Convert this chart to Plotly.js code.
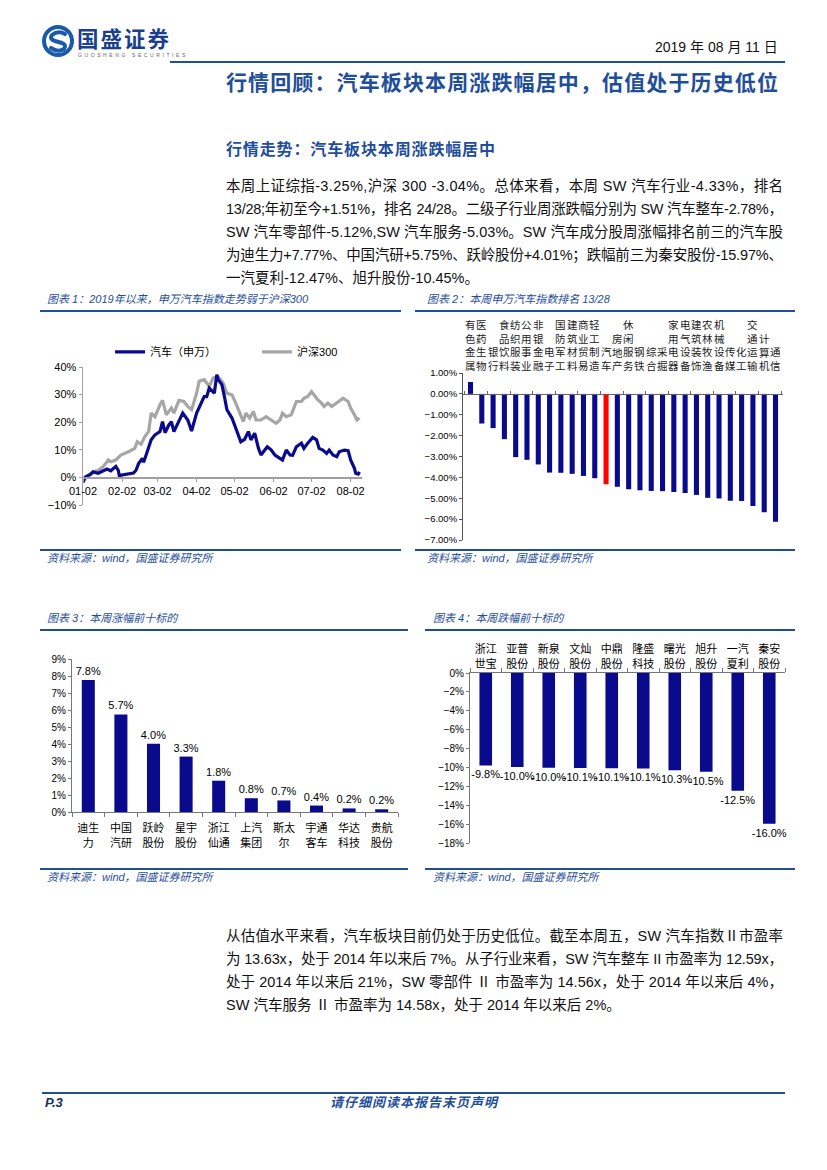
<!DOCTYPE html>
<html><head><meta charset="utf-8">
<script src="https://cdn.plot.ly/plotly-3.0.1.min.js"></script>
<style>
body{margin:0;background:#fff;}
#page{position:relative;width:827px;height:1170px;overflow:hidden;font-family:"Liberation Sans","Noto Sans CJK SC",sans-serif;color:#111;}
.t{position:absolute;white-space:nowrap;}
.hl{position:absolute;background:#1F4E9A;}
.ln{font-size:14.5px;line-height:20px;left:226px;}
.cap{font-style:italic;font-size:11px;line-height:14px;color:#1F4E9A;}
.ch{position:absolute;}
</style></head>
<body><div id="page">
<svg class="ch" style="left:40px;top:24px" width="40" height="36" viewBox="0 0 40 36">
  <circle cx="18" cy="17" r="14" fill="none" stroke="#1A5AA8" stroke-width="4"/>
  <path d="M25 10 Q18 6 12 11 Q9 15 15 17 L22 19 Q27 21 24 25 Q18 29 11 24" fill="none" stroke="#1A5AA8" stroke-width="4" stroke-linecap="round"/>
</svg>
<div class="t" style="left:77px;top:27px;font-size:21.5px;line-height:26px;font-weight:bold;color:#1B3F8F;letter-spacing:2px;">国盛证券</div>
<div class="t" style="left:78px;top:52px;font-size:5px;line-height:7px;color:#666;letter-spacing:2.6px;">GUOSHENG SECURITIES</div>
<div class="t" style="left:655px;top:38px;font-size:14px;line-height:18px;">2019 年 08 月 11 日</div>
<div class="hl" style="left:170px;top:61px;width:615px;height:2px;"></div>
<div class="t fit" data-w="552" style="left:226px;top:70px;font-size:21px;line-height:26px;font-weight:bold;color:#1F4E9A;">行情回顾：汽车板块本周涨跌幅居中，估值处于历史低位</div>
<div class="t fit" data-w="269" style="left:226px;top:140px;font-size:16px;line-height:20px;font-weight:bold;color:#1F4E9A;">行情走势：汽车板块本周涨跌幅居中</div>

<div class="t ln fit" data-w="557" style="top:176px;">本周上证综指-3.25%,沪深 300 -3.04%。总体来看，本周 SW 汽车行业-4.33%，排名</div>
<div class="t ln fit" data-w="557" style="top:199px;">13/28;年初至今+1.51%，排名 24/28。二级子行业周涨跌幅分别为 SW 汽车整车-2.78%，</div>
<div class="t ln fit" data-w="557" style="top:222px;">SW 汽车零部件-5.12%,SW 汽车服务-5.03%。SW 汽车成分股周涨幅排名前三的汽车股</div>
<div class="t ln fit" data-w="557" style="top:245px;">为迪生力+7.77%、中国汽研+5.75%、跃岭股份+4.01%；跌幅前三为秦安股份-15.97%、</div>
<div class="t ln" style="top:268px;">一汽夏利-12.47%、旭升股份-10.45%。</div>

<div class="t cap" style="left:47px;top:292px;">图表 1：2019年以来，申万汽车指数走势弱于沪深300</div>
<div class="hl" style="left:40px;top:310px;width:361px;height:1.5px;"></div>
<div class="t cap" style="left:427px;top:292px;">图表 2：本周申万汽车指数排名 13/28</div>
<div class="hl" style="left:415px;top:310px;width:380px;height:1.5px;"></div>
<div class="hl" style="left:40px;top:549px;width:361px;height:1.5px;"></div>
<div class="hl" style="left:415px;top:549px;width:380px;height:1.5px;"></div>
<div class="t cap" style="left:47px;top:551px;">资料来源：wind，国盛证券研究所</div>
<div class="t cap" style="left:427px;top:551px;">资料来源：wind，国盛证券研究所</div>

<div class="t cap" style="left:47px;top:611px;">图表 3：本周涨幅前十标的</div>
<div class="hl" style="left:40px;top:629px;width:368px;height:1.5px;"></div>
<div class="t cap" style="left:433px;top:611px;">图表 4：本周跌幅前十标的</div>
<div class="hl" style="left:425px;top:629px;width:370px;height:1.5px;"></div>
<div class="hl" style="left:40px;top:868px;width:368px;height:1.5px;"></div>
<div class="hl" style="left:425px;top:868px;width:370px;height:1.5px;"></div>
<div class="t cap" style="left:47px;top:870px;">资料来源：wind，国盛证券研究所</div>
<div class="t cap" style="left:433px;top:870px;">资料来源：wind，国盛证券研究所</div>

<div class="t ln fit" data-w="557" style="top:926px;">从估值水平来看，汽车板块目前仍处于历史低位。截至本周五，SW 汽车指数Ⅱ市盈率</div>
<div class="t ln fit" data-w="557" style="top:949px;">为 13.63x，处于 2014 年以来后 7%。从子行业来看，SW 汽车整车 II 市盈率为 12.59x，</div>
<div class="t ln fit" data-w="557" style="top:972px;">处于 2014 年以来后 21%，SW 零部件 Ⅱ 市盈率为 14.56x，处于 2014 年以来后 4%，</div>
<div class="t ln" style="top:995px;">SW 汽车服务 Ⅱ 市盈率为 14.58x，处于 2014 年以来后 2%。</div>

<div class="hl" style="left:42px;top:1092px;width:743px;height:2px;"></div>
<div class="t" style="left:45px;top:1095px;font-size:13px;line-height:16px;font-weight:bold;font-style:italic;color:#1B2F5F;">P.3</div>
<div class="t" style="left:330px;top:1095px;font-size:13px;line-height:16px;font-weight:bold;font-style:italic;color:#1F4E9A;letter-spacing:1px;">请仔细阅读本报告末页声明</div>

<div id="c1" class="ch" style="left:40px;top:320px;"></div>
<div id="c2" class="ch" style="left:415px;top:312px;"></div>
<div id="c3" class="ch" style="left:40px;top:640px;"></div>
<div id="c4" class="ch" style="left:420px;top:630px;"></div>
</div>
<script>
// ---- Chart 1 data ----
const carDates = ['2019-01-02','2019-01-04','2019-01-08','2019-01-10','2019-01-14','2019-01-17','2019-01-21','2019-01-24','2019-01-28','2019-01-30','2019-01-31','2019-02-01','2019-02-11','2019-02-13','2019-02-15','2019-02-18','2019-02-19','2019-02-21','2019-02-22','2019-02-25','2019-02-28','2019-03-04','2019-03-06','2019-03-08','2019-03-11','2019-03-13','2019-03-15','2019-03-19','2019-03-22','2019-03-26','2019-03-29','2019-04-02','2019-04-08','2019-04-10','2019-04-12','2019-04-16','2019-04-18','2019-04-19','2019-04-22','2019-04-24','2019-04-26','2019-04-30','2019-05-02','2019-05-05','2019-05-07','2019-05-10','2019-05-13','2019-05-15','2019-05-18','2019-05-21','2019-05-23','2019-05-26','2019-05-28','2019-05-31','2019-06-03','2019-06-07','2019-06-09','2019-06-12','2019-06-15','2019-06-17','2019-06-20','2019-06-24','2019-06-26','2019-06-29','2019-07-03','2019-07-06','2019-07-08','2019-07-11','2019-07-14','2019-07-16','2019-07-19','2019-07-22','2019-07-24','2019-07-28','2019-07-31','2019-08-02','2019-08-05','2019-08-06','2019-08-08','2019-08-09'];
const carVals = [-1.8,0.2,1.1,2.0,1.5,2.2,3.0,2.4,4.0,2.5,0.0,0.8,1.6,2.6,5.0,6.9,5.5,8.1,9.7,13.6,15.4,16.6,20.2,16.2,19.0,20.2,16.6,20.2,23.3,20.8,16.8,23.3,29.3,29.3,32.4,30.5,37.2,35.5,33.6,29.3,24.5,21.5,19.0,14.8,12.9,13.8,16.6,13.6,16.0,10.5,8.1,9.9,11.1,10.0,8.1,6.9,6.3,9.9,8.1,8.0,11.1,12.4,10.5,12.4,14.5,13.6,10.5,9.9,8.7,9.9,8.1,7.5,9.3,9.9,9.7,6.3,3.3,1.5,1.2,2.0];
const hsDates = ['2019-01-02','2019-01-06','2019-01-10','2019-01-14','2019-01-18','2019-01-22','2019-01-24','2019-01-28','2019-02-01','2019-02-07','2019-02-12','2019-02-14','2019-02-17','2019-02-20','2019-02-23','2019-02-25','2019-02-28','2019-03-04','2019-03-06','2019-03-09','2019-03-13','2019-03-15','2019-03-19','2019-03-23','2019-03-26','2019-03-29','2019-04-02','2019-04-04','2019-04-08','2019-04-12','2019-04-15','2019-04-19','2019-04-23','2019-04-26','2019-04-30','2019-05-03','2019-05-06','2019-05-09','2019-05-11','2019-05-14','2019-05-17','2019-05-19','2019-05-23','2019-05-27','2019-05-31','2019-06-04','2019-06-07','2019-06-09','2019-06-12','2019-06-16','2019-06-20','2019-06-24','2019-06-26','2019-06-29','2019-07-02','2019-07-04','2019-07-07','2019-07-10','2019-07-12','2019-07-15','2019-07-18','2019-07-20','2019-07-24','2019-07-27','2019-07-31','2019-08-02','2019-08-05','2019-08-07','2019-08-09'];
const hsVals = [-0.5,0.8,2.0,2.6,3.9,6.3,5.7,6.3,8.1,9.3,10.5,12.9,12.0,14.8,16.6,23.3,22.0,26.3,27.9,22.7,25.1,23.3,27.9,27.5,25.7,24.5,30.5,34.8,35.4,33.0,36.0,36.5,34.2,30.5,29.9,26.9,23.9,20.2,23.3,21.5,23.9,20.8,20.8,22.0,20.8,19.6,20.8,23.3,22.0,22.7,27.5,27.5,28.7,29.3,31.1,29.9,28.1,26.9,25.7,26.9,25.7,26.3,27.5,28.7,27.5,25.1,22.7,20.8,21.5];

// ---- Chart 2 data ----
const indNames = ['有色金属','医药生物','银行','食品饮料','纺织服装','公用事业','非银金融','电子','国防军工','建筑材料','商业贸易','轻工制造','汽车','房地产','休闲服务','钢铁','综合','采掘','家用电器','电气设备','建筑装饰','农林牧渔','机械设备','传媒','化工','交通运输','计算机','通信'];
const indChg = [0.57,-1.42,-1.64,-2.17,-3.03,-3.16,-3.38,-3.77,-3.78,-3.83,-3.93,-4.04,-4.33,-4.45,-4.57,-4.62,-4.65,-4.66,-4.70,-4.75,-4.84,-4.98,-5.01,-5.12,-5.13,-5.37,-5.67,-6.12];
const highlight = '汽车';

// ---- Chart 3 data ----
const gainNames = ['迪生力','中国汽研','跃岭股份','星宇股份','浙江仙通','上汽集团','斯太尔','宇通客车','华达科技','贵航股份'];
const gainVals = [7.77,5.74,4.01,3.26,1.84,0.81,0.68,0.38,0.21,0.16];

// ---- Chart 4 data ----
const lossNames = ['浙江世宝','亚普股份','新泉股份','文灿股份','中鼎股份','隆盛科技','曙光股份','旭升股份','一汽夏利','秦安股份'];
const lossVals = [-9.79,-9.96,-10.02,-10.06,-10.08,-10.10,-10.30,-10.46,-12.47,-15.97];

const NAVY = '#0A0A8C';
const FONT = 'Liberation Sans, Noto Sans CJK SC, sans-serif';
const cfg = {displayModeBar:false, staticPlot:true};
const split2 = s => s.slice(0,2) + '<br>' + s.slice(2);

Plotly.newPlot('c1', [
  {x:hsDates, y:hsVals, type:'scatter', mode:'lines', name:'沪深300', legend:'legend2', line:{color:'#A6A6A6', width:3.2}},
  {x:carDates, y:carVals, type:'scatter', mode:'lines', name:'汽车（申万）', legend:'legend', line:{color:NAVY, width:3.2}}
], {
  width:340, height:210, margin:{l:43, r:18, t:47, b:24.5},
  paper_bgcolor:'rgba(0,0,0,0)', plot_bgcolor:'rgba(0,0,0,0)',
  font:{family:FONT, size:11, color:'#000'},
  xaxis:{type:'date', range:['2019-01-02','2019-08-11'], tick0:'2019-01-02', dtick:'M1', tickformat:'%m-%d',
         anchor:'free', position:0.2, showline:true, linecolor:'#A0A0A0', linewidth:1.5, ticks:'outside', ticklen:3,
         tickcolor:'#A0A0A0', showgrid:false, zeroline:false, tickfont:{size:11}},
  yaxis:{range:[-10,40], dtick:10, ticksuffix:'%', showline:true, linecolor:'#A0A0A0', linewidth:1.5, ticks:'outside',
         ticklen:3, tickcolor:'#A0A0A0', showgrid:false, zeroline:false, tickfont:{size:11}},
  showlegend:true,
  legend:{orientation:'h', x:0.097, xanchor:'left', y:1.11, yanchor:'middle', font:{size:11}, bgcolor:'rgba(0,0,0,0)'},
  legend2:{orientation:'h', x:0.624, xanchor:'left', y:1.11, yanchor:'middle', font:{size:11}, bgcolor:'rgba(0,0,0,0)'}
}, cfg);

Plotly.newPlot('c2', [
  {x:indNames, y:indChg, type:'bar', marker:{color:indNames.map(n => n === highlight ? '#FF0000' : NAVY)}}
], {
  width:380, height:236, margin:{l:48, r:12, t:61, b:8},
  paper_bgcolor:'rgba(0,0,0,0)', plot_bgcolor:'rgba(0,0,0,0)',
  font:{family:FONT, size:9.5, color:'#000'}, bargap:0.55, showlegend:false,
  xaxis:{type:'category', showticklabels:false, anchor:'free', position:0.875, showline:true, linecolor:'#666',
         ticks:'inside', tickson:'boundaries', ticklen:3, tickcolor:'#666', showgrid:false, zeroline:false},
  yaxis:{range:[-7,1], dtick:1, tickformat:'.2f', ticksuffix:'%', showline:true, linecolor:'#555', ticks:'outside', ticklen:3,
         tickcolor:'#555', showgrid:false, zeroline:false, tickfont:{size:9.5}},
  annotations: indNames.map(n => ({x:n, xref:'x', y:1, yref:'paper', yanchor:'bottom', yshift:-2, showarrow:false,
      text:Array.from(n).join('<br>'), font:{size:10.5, color:'#222', family:'Noto Sans CJK SC'}}))
}, cfg);

Plotly.newPlot('c3', [
  {x:gainNames, y:gainVals, type:'bar', marker:{color:NAVY}, texttemplate:'%{y:.1f}%', textposition:'outside',
   constraintext:'none', textfont:{size:11, color:'#000'}, cliponaxis:false}
], {
  width:365, height:225, margin:{l:32, r:7, t:19, b:52.7},
  paper_bgcolor:'rgba(0,0,0,0)', plot_bgcolor:'rgba(0,0,0,0)',
  font:{family:FONT, size:10, color:'#000'}, bargap:0.6, showlegend:false,
  xaxis:{type:'category', tickmode:'array', tickvals:gainNames, ticktext:gainNames.map(split2), showline:true, linecolor:'#777',
         ticks:'outside', tickson:'boundaries', ticklen:4, tickcolor:'#777', showgrid:false, ticklabelstandoff:6,
         tickfont:{size:11, family:'Noto Sans CJK SC'}},
  yaxis:{range:[0,9], dtick:1, ticksuffix:'%', showline:true, linecolor:'#777', ticks:'outside', ticklen:3, tickcolor:'#777',
         showgrid:false, zeroline:false, tickfont:{size:10}}
}, cfg);

Plotly.newPlot('c4', [
  {x:lossNames, y:lossVals, type:'bar', marker:{color:NAVY}, texttemplate:'%{y:.1f}%', textposition:'outside',
   constraintext:'none', textfont:{size:11, color:'#000'}, cliponaxis:false}
], {
  width:375, height:230, margin:{l:50, r:10, t:43, b:17},
  paper_bgcolor:'rgba(0,0,0,0)', plot_bgcolor:'rgba(0,0,0,0)',
  font:{family:FONT, size:10, color:'#000'}, bargap:0.6, showlegend:false,
  xaxis:{type:'category', side:'top', tickmode:'array', tickvals:lossNames, ticktext:lossNames.map(split2), showline:true, linecolor:'#777',
         ticks:'outside', tickson:'boundaries', ticklen:4, tickcolor:'#777', showgrid:false, tickfont:{size:11, family:'Noto Sans CJK SC'}},
  yaxis:{range:[-18,0], dtick:2, ticksuffix:'%', showline:true, linecolor:'#777', ticks:'outside', ticklen:3, tickcolor:'#777',
         showgrid:false, zeroline:false, tickfont:{size:10}}
}, cfg);

function fitAll(){
  document.querySelectorAll('.fit').forEach(el => {
    el.style.letterSpacing = '0px';
    const w = el.getBoundingClientRect().width;
    const n = Array.from(el.textContent).length;
    const target = parseFloat(el.dataset.w);
    el.style.letterSpacing = ((target - w) / (n - 1)) + 'px';
  });
}
if (document.fonts && document.fonts.ready) { document.fonts.ready.then(fitAll); } else { fitAll(); }
fitAll();
</script>
</body></html>
